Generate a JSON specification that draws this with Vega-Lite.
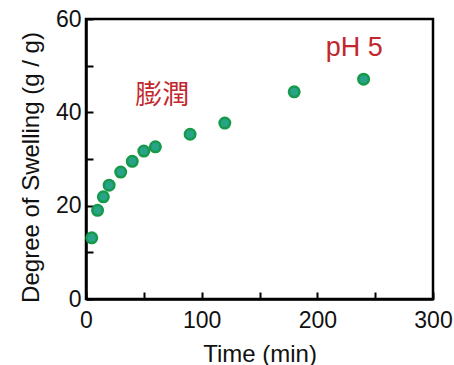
{
  "$schema": "https://vega.github.io/schema/vega-lite/v6.json",
  "width": 347,
  "height": 280,
  "autosize": {"type": "none"},
  "padding": {"left": 86, "top": 19, "right": 21, "bottom": 66},
  "background": "white",
  "config": {
    "view": {"stroke": "black", "strokeWidth": 2.5},
    "font": "Liberation Sans",
    "axis": {
      "grid": false,
      "domainColor": "black",
      "domainWidth": 2.5,
      "tickColor": "black",
      "tickWidth": 2,
      "tickSize": -7,
      "labelColor": "#111",
      "titleColor": "#111",
      "labelFont": "Liberation Sans",
      "titleFont": "Liberation Sans",
      "labelFontSize": 23,
      "titleFontSize": 24,
      "titleFontWeight": "normal"
    }
  },
  "layer": [
    {
      "data": {"values": [
        {"t": 5, "s": 13.1},
        {"t": 10, "s": 19.0},
        {"t": 15, "s": 21.9},
        {"t": 20, "s": 24.4},
        {"t": 30, "s": 27.2},
        {"t": 40, "s": 29.5},
        {"t": 50, "s": 31.7},
        {"t": 60, "s": 32.6},
        {"t": 90, "s": 35.3},
        {"t": 120, "s": 37.7},
        {"t": 180, "s": 44.4},
        {"t": 240, "s": 47.1}
      ]},
      "mark": {"type": "point", "filled": true, "shape": "circle", "size": 110, "fill": "#27a388", "stroke": "#16994a", "strokeWidth": 2.5, "opacity": 1},
      "encoding": {
        "x": {"field": "t", "type": "quantitative", "title": "Time (min)",
          "scale": {"domain": [0, 300], "nice": false},
          "axis": {"values": [0, 50, 100, 150, 200, 250, 300], "labelExpr": "datum.value % 100 == 0 ? datum.label : ''", "labelPadding": 17, "titlePadding": 10, "labelFlush": false}},
        "y": {"field": "s", "type": "quantitative", "title": "Degree of Swelling (g / g)",
          "scale": {"domain": [0, 60], "nice": false},
          "axis": {"values": [0, 10, 20, 30, 40, 50, 60], "labelExpr": "datum.value % 20 == 0 ? datum.label : ''", "labelPadding": 12, "titlePadding": 12, "titleY": 148, "labelFlush": false}}
      }
    },
    {
      "data": {"values": [
        {"t": 66, "s": 43.4, "label": "膨潤"},
        {"t": 232, "s": 53.8, "label": "pH 5"}
      ]},
      "mark": {"type": "text", "color": "#c1272d", "fontSize": 27, "font": "Liberation Sans, Noto Sans CJK TC", "align": "center", "baseline": "middle"},
      "encoding": {
        "x": {"field": "t", "type": "quantitative"},
        "y": {"field": "s", "type": "quantitative"},
        "text": {"field": "label"}
      }
    }
  ]
}
